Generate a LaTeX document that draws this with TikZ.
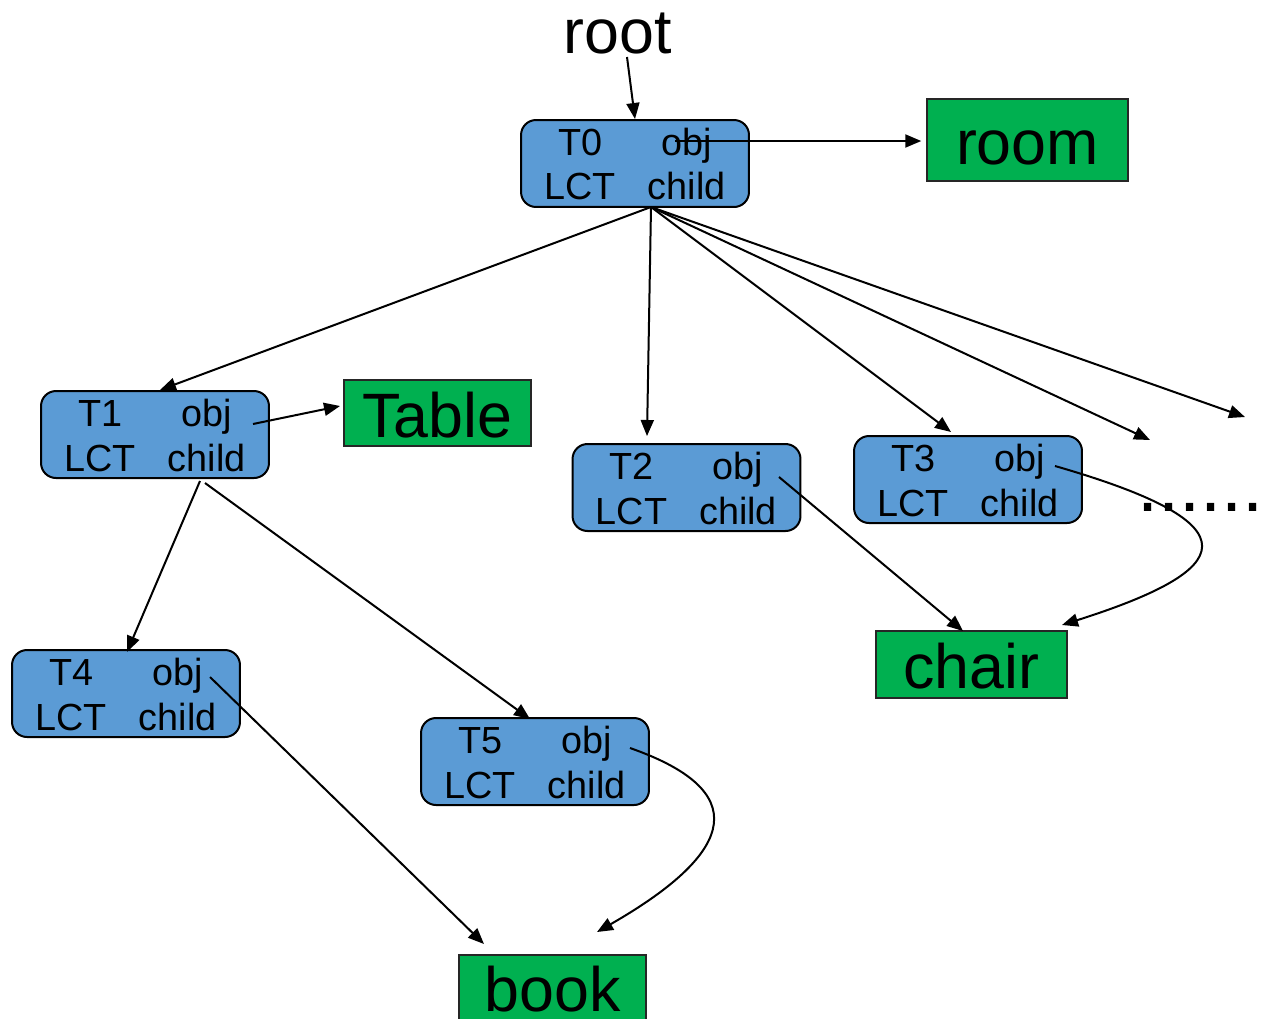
\documentclass[tikz,border=0pt]{standalone}
\usepackage{fontspec}
\setmainfont{Liberation Sans}
\usetikzlibrary{arrows.meta,calc}
\definecolor{boxblue}{HTML}{5B9BD5}
\definecolor{boxgreen}{HTML}{00B050}
\newcommand\cellpair[1]{\raisebox{-0.73cm}[0pt][0pt]{\fontsize{21.5}{25.6}\selectfont\begin{tabular}[b]{@{}c@{\hspace{0.64cm}}c@{}}#1&obj\\LCT&child\end{tabular}}}
\begin{document}
\begin{tikzpicture}[x=0.02cm,y=-0.02cm,
  tbox/.style={draw=black, line width=0.04cm, fill=boxblue, rounded corners=0.3cm,
    minimum width=4.56cm, minimum height=1.74cm, inner sep=0pt, text height=0pt, text depth=0pt},
  gbox/.style={draw=black!85, line width=0.03cm, fill=boxgreen, inner sep=0pt,
    font=\fontsize{35.7}{40}\selectfont},
  conn/.style={line width=0.04cm, -{Triangle[length=0.32cm,width=0.26cm]}},
  bigtext/.style={font=\fontsize{35.7}{40}\selectfont, inner sep=0pt}
]
\clip (0,0) rectangle (1267,1018);

% text and boxes
\node[bigtext, anchor=base] (root) at (617.5,53) {root};

\node[tbox] (t0) at (635,163.5) {\cellpair{T0}};
\node[tbox] (t1) at (155,434.5) {\cellpair{T1}};
\node[tbox] (t2) at (686.5,487.5) {\cellpair{T2}};
\node[tbox] (t3) at (968,479.5) {\cellpair{T3}};
\node[tbox] (t4) at (126,693.5) {\cellpair{T4}};
\node[tbox] (t5) at (535,761.5) {\cellpair{T5}};

\node[gbox, minimum width=4.02cm, minimum height=1.64cm, text height=1.30cm, text depth=0.34cm] (room) at (1027.5,140) {room};
\node[gbox, minimum width=3.74cm, minimum height=1.32cm, text height=1.14cm, text depth=0.18cm] (table) at (437.5,413) {Table};
\node[gbox, minimum width=3.82cm, minimum height=1.34cm, text height=1.14cm, text depth=0.20cm] (chair) at (971.5,664.5) {chair};
\node[gbox, minimum width=3.74cm, minimum height=1.34cm, text height=1.12cm, text depth=0.22cm] (book) at (552.5,988.5) {book};

\node[font=\fontsize{43.2}{50}\selectfont, anchor=base west, inner sep=0pt] (dots) at (1137,511) {......};

% connector coordinates
\coordinate (rootout) at ($(root.base)+(9.5,4)$);
\coordinate (t0obj) at ($(t0.center)+(40,-22.5)$);
\coordinate (t0ch) at ($(t0.center)+(16,43.5)$);
\coordinate (t1in) at ($(t1.center)+(5,-44.5)$);
\coordinate (t2in) at ($(t2.center)+(-39.5,-51.5)$);
\coordinate (t3in) at ($(t3.center)+(-17,-47.5)$);
\coordinate (far1) at (1150,440);
\coordinate (far2) at (1245,417);
\coordinate (roomin) at ($(room.west)+(-5,1)$);
\coordinate (t1obj) at ($(t1.center)+(98,-10.5)$);
\coordinate (tablein) at ($(table.center)+(-97.5,-7)$);
\coordinate (t1chA) at ($(t1.center)+(45,46.5)$);
\coordinate (t1chB) at ($(t1.center)+(50,48.5)$);
\coordinate (t4in) at ($(t4.center)+(1,-41.5)$);
\coordinate (t5in) at ($(t5.center)+(-5,-42.5)$);
\coordinate (t2obj) at ($(t2.center)+(92.5,-10.5)$);
\coordinate (chairinA) at ($(chair.center)+(-8.5,-33.5)$);
\coordinate (t3obj) at ($(t3.center)+(87,-13.5)$);
\coordinate (chairinB) at ($(chair.center)+(90.5,-39.5)$);
\coordinate (t4obj) at ($(t4.center)+(84,-16.5)$);
\coordinate (bookinA) at ($(book.center)+(-68.5,-44.5)$);
\coordinate (t5obj) at ($(t5.center)+(95,-13.5)$);
\coordinate (bookinB) at ($(book.center)+(44.5,-56.5)$);

% connectors
\draw[conn] (rootout) -- (t0.north);
\draw[conn] (t0obj) -- (roomin);
\draw[conn] (t0ch) -- (t1in);
\draw[conn] (t0ch) -- (t2in);
\draw[conn] (t0ch) -- (t3in);
\draw[conn] (t0ch) -- (far1);
\draw[conn] (t0ch) -- (far2);
\draw[conn] (t1obj) -- (tablein);
\draw[conn] (t1chA) -- (t4in);
\draw[conn] (t1chB) -- (t5in);
\draw[conn] (t2obj) -- (chairinA);
\draw[conn] (t3obj) .. controls (1260,525) and (1235,570) .. (chairinB);
\draw[conn] (t4obj) -- (bookinA);
\draw[conn] (t5obj) .. controls (750,790) and (740,850) .. (bookinB);
\end{tikzpicture}
\end{document}
